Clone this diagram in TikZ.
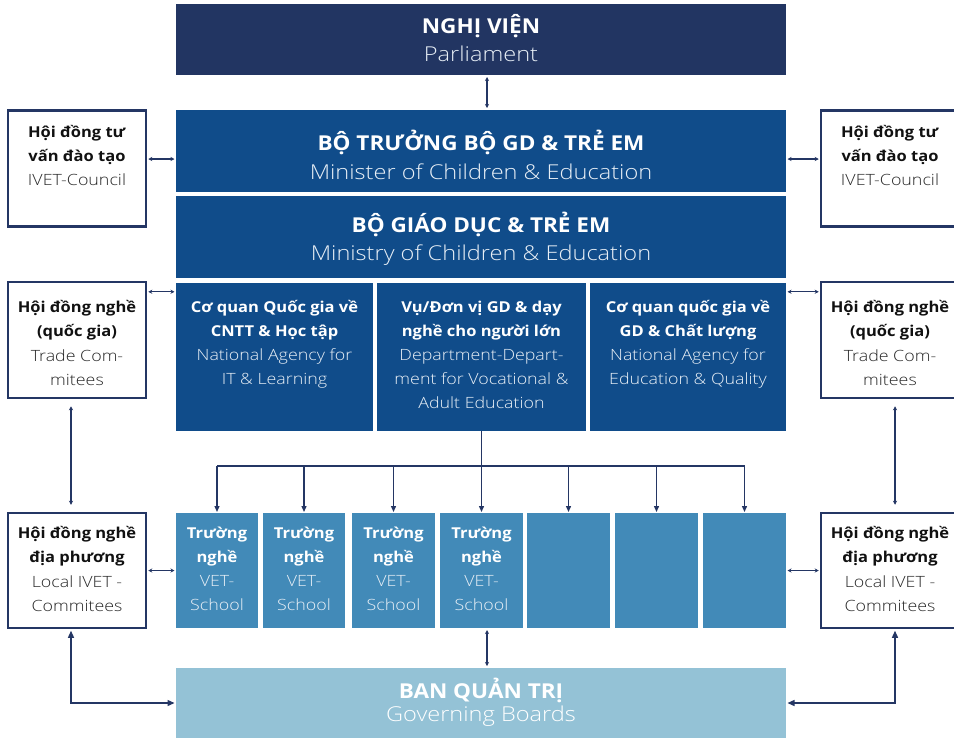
\documentclass[tikz,border=0pt]{standalone}
\usepackage{fontspec}
\setmainfont{Open Sans}[FakeStretch=1.1]
\newfontfamily\lightfont{Open Sans Light}[FakeStretch=1.15]
\usetikzlibrary{arrows.meta,calc}
\definecolor{navy}{RGB}{34,53,98}
\definecolor{mblue}{RGB}{16,76,138}
\definecolor{sblue}{RGB}{66,138,184}
\definecolor{lblue}{RGB}{148,194,214}
\definecolor{lineblue}{RGB}{36,54,100}
\definecolor{greytxt}{RGB}{40,40,40}
\definecolor{blacktxt}{RGB}{17,17,17}
\definecolor{paletxt}{RGB}{232,239,246}
\newcommand\lt[1]{{\lightfont\fontsize{15.5}{24}\selectfont #1}}
\newcommand\ltt[1]{{\lightfont\fontsize{20.5}{28.5}\selectfont #1}}
\newcommand\bt[1]{{\fontsize{20.5}{28.5}\selectfont\bfseries #1}}
\begin{document}
\begin{tikzpicture}[x=1pt,y=-1pt,
  fillbox/.style={draw=none,fill=#1,inner sep=0pt,outer sep=0pt},
  sidebox/.style={draw=lineblue,line width=2.5pt,fill=white,inner sep=0pt,minimum width=138pt,minimum height=116pt},
  sidetxt/.style={align=center,inner sep=0pt,font=\fontsize{15}{24.3}\selectfont,text=blacktxt},
  deptxt/.style={align=center,inner sep=0pt,font=\fontsize{15}{24}\selectfont,text=white},
  titletxt/.style={align=center,inner sep=0pt,font=\fontsize{20}{28.5}\selectfont,text=white},
  dbl/.style={draw=lineblue,line width=1.1pt,{Stealth[length=4pt,width=4pt]}-{Stealth[length=4pt,width=4pt]}},
  bigdbl/.style={draw=lineblue,line width=1.3pt,{Triangle[length=7pt,width=6pt]}-{Triangle[length=7pt,width=6pt]}},
  treeline/.style={draw=lineblue,line width=1.3pt},
  treearr/.style={draw=lineblue,line width=1.3pt,-{Triangle[length=6pt,width=5pt]}}
]
\useasboundingbox (0,0) rectangle (954,740);

% central column
\node[fillbox=navy,minimum width=610pt,minimum height=71pt] (parl) at (481,39.5) {};
\node[fillbox=mblue,minimum width=610pt,minimum height=82pt] (min) at (481,151) {};
\node[fillbox=mblue,minimum width=610pt,minimum height=82pt] (mny) at (481,237) {};
\node[fillbox=mblue,minimum width=197pt,minimum height=148pt] (d1) at (274.5,357) {};
\node[fillbox=mblue,minimum width=209pt,minimum height=148pt] (d2) at (481.5,357) {};
\node[fillbox=mblue,minimum width=196pt,minimum height=148pt] (d3) at (688,357) {};
\node[fillbox=sblue,minimum width=82pt,minimum height=115pt] (s1) at (217,570.5) {};
\node[fillbox=sblue,minimum width=82pt,minimum height=115pt] (s2) at (304,570.5) {};
\node[fillbox=sblue,minimum width=83pt,minimum height=115pt] (s3) at (393.5,570.5) {};
\node[fillbox=sblue,minimum width=83pt,minimum height=115pt] (s4) at (481.5,570.5) {};
\node[fillbox=sblue,minimum width=83pt,minimum height=115pt] (s5) at (568.5,570.5) {};
\node[fillbox=sblue,minimum width=83pt,minimum height=115pt] (s6) at (656.5,570.5) {};
\node[fillbox=sblue,minimum width=83pt,minimum height=115pt] (s7) at (744.5,570.5) {};
\node[fillbox=lblue,minimum width=610pt,minimum height=70pt] (gov) at (481,703) {};

% side boxes
\node[sidebox] (ivl) at (77,168.5) {};
\node[sidebox] (ivr) at (890,168.5) {};
\node[sidebox] (trl) at (77,340) {};
\node[sidebox] (trr) at (890,340) {};
\node[sidebox,minimum height=115pt] (lol) at (77,570.5) {};
\node[sidebox,minimum height=115pt] (lor) at (890,570.5) {};

% texts
\node[titletxt] (tparl) at (481,42) {\strut\bt{NGHỊ VIỆN}\\{\color{paletxt}\ltt{Parliament}}\strut};
\node[titletxt] (tmin) at (481,159) {\strut\bt{BỘ TRƯỞNG BỘ GD \& TRẺ EM}\\{\color{paletxt}\ltt{Minister of Children \& Education}}\strut};
\node[titletxt] (tmny) at (481,240.5) {\strut\bt{BỘ GIÁO DỤC \& TRẺ EM}\\{\color{paletxt}\ltt{Ministry of Children \& Education}}\strut};
\node[titletxt,font=\fontsize{20}{23.5}\selectfont] (tgov) at (481,703.5) {\strut{\fontsize{20.5}{23.5}\selectfont\bfseries BAN QUẢN TRỊ}\\{\color{white}\lightfont\fontsize{20.5}{23.5}\selectfont Governing Boards}\strut};

\node[deptxt] (td1) at (274.5,344) {\strut\textbf{Cơ quan Quốc gia về}\\\textbf{CNTT \& Học tập}\\{\color{paletxt}\lt{National Agency for}}\\{\color{paletxt}\lt{IT \& Learning}}\strut};
\node[deptxt] (td2) at (481.5,356) {\strut\textbf{Vụ/Đơn vị GD \& dạy}\\\textbf{nghề cho người lớn}\\{\color{paletxt}\lt{Department-Depart-}}\\{\color{paletxt}\lt{ment for Vocational \&}}\\{\color{paletxt}\lt{Adult Education}}\strut};
\node[deptxt] (td3) at (688,344) {\strut\textbf{Cơ quan quốc gia về}\\\textbf{GD \& Chất lượng}\\{\color{paletxt}\lt{National Agency for}}\\{\color{paletxt}\lt{Education \& Quality}}\strut};

\foreach \i in {1,2,3,4}{
  \node[deptxt] (ts\i) at ([yshift=0.5pt]s\i.center) {\strut\textbf{Trường}\\\textbf{nghề}\\{\color{paletxt}\lt{VET-}}\\{\color{paletxt}\lt{School}}\strut};
}

\node[sidetxt] (tivl) at (77,156.7) {\strut\textbf{Hội đồng tư}\\\textbf{vấn đào tạo}\\{\color{greytxt}\lt{IVET-Council}}\strut};
\node[sidetxt] (tivr) at (890,156.7) {\strut\textbf{Hội đồng tư}\\\textbf{vấn đào tạo}\\{\color{greytxt}\lt{IVET-Council}}\strut};
\node[sidetxt] (ttrl) at (77,344) {\strut\textbf{Hội đồng nghề}\\\textbf{(quốc gia)}\\{\color{greytxt}\lt{Trade Com-}}\\{\color{greytxt}\lt{mitees}}\strut};
\node[sidetxt] (ttrr) at (890,344) {\strut\textbf{Hội đồng nghề}\\\textbf{(quốc gia)}\\{\color{greytxt}\lt{Trade Com-}}\\{\color{greytxt}\lt{mitees}}\strut};
\node[sidetxt] (tlol) at (77,570) {\strut\textbf{Hội đồng nghề}\\\textbf{địa phương}\\{\color{greytxt}\lt{Local IVET -}}\\{\color{greytxt}\lt{Commitees}}\strut};
\node[sidetxt] (tlor) at (890,570) {\strut\textbf{Hội đồng nghề}\\\textbf{địa phương}\\{\color{greytxt}\lt{Local IVET -}}\\{\color{greytxt}\lt{Commitees}}\strut};

% connectors: centre column
\draw[dbl,shorten <=2pt,shorten >=2pt] ([xshift=6pt]parl.south) -- ([xshift=6pt]min.north);
\draw[dbl,shorten <=2pt,shorten >=2pt] ([xshift=6pt]gov.north) -- ([xshift=6pt]gov.north |- s4.south);

% tree
\coordinate (bus) at (481.5,466);
\draw[treeline] (s1.north |- bus) -- (s7.north |- bus);
\draw[treearr,shorten >=1pt] (d2.south) -- (s4.north);
\foreach \i in {1,2,3,5,6,7}{
  \draw[treearr,shorten >=1pt] (s\i.north |- bus) -- (s\i.north);
}

% side connectors
\draw[dbl,shorten <=1pt,shorten >=1.5pt] ([yshift=9.5pt]ivl.east) -- ([yshift=9.5pt]ivl.east -| min.west);
\draw[dbl,shorten <=1pt,shorten >=1.5pt] ([yshift=9.5pt]ivr.west) -- ([yshift=9.5pt]ivr.west -| min.east);
\coordinate (al) at ($(trl.north east)+(0,11)$);
\coordinate (ar) at ($(trr.north west)+(0,11)$);
\draw[dbl,shorten <=1pt,shorten >=1.5pt] (al) -- (al -| d1.west);
\draw[dbl,shorten <=1pt,shorten >=1.5pt] (ar) -- (ar -| d3.east);
\draw[dbl,shorten <=1pt,shorten >=1.5pt] (lol.east) -- (lol.east -| s1.west);
\draw[dbl,shorten <=1pt,shorten >=1.5pt] (lor.west) -- (lor.west -| s7.east);
\draw[dbl,shorten <=7pt,shorten >=7pt] ([xshift=-6pt]trl.south) -- ([xshift=-6pt]lol.north);
\draw[dbl,shorten <=7pt,shorten >=7pt] ([xshift=5pt]trr.south) -- ([xshift=5pt]lor.north);
\draw[bigdbl,shorten <=1.5pt,shorten >=1.5pt] ([xshift=-6pt]lol.south) |- (gov.west);
\draw[bigdbl,shorten <=1.5pt,shorten >=1.5pt] ([xshift=5pt]lor.south) |- (gov.east);
\end{tikzpicture}
\end{document}
